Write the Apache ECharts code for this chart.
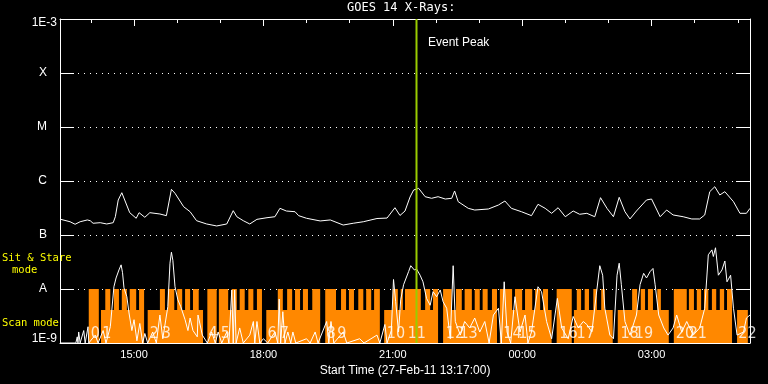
<!DOCTYPE html>
<html>
<head>
<meta charset="utf-8">
<script src="https://cdn.jsdelivr.net/npm/echarts@6/dist/echarts.min.js"></script>
<style>html,body{margin:0;padding:0;background:#000;}#c{width:768px;height:384px;}</style>
</head>
<body>
<div id="c"></div>
<script>
// ---- time axis: minutes after the start time 13:17 (27-Feb-11) ----
const startClock = 13 * 60 + 17;
const spanMinutes = 960;
const hourTicks = [43, 103, 163, 223, 283, 343, 403, 463, 523, 583, 643, 703, 763, 823, 883, 943];
const labelTicks = [103, 283, 463, 643, 823];
const yTickLabels = { '-3': '1E-3', '-4': 'X', '-5': 'M', '-6': 'C', '-7': 'B', '-8': 'A', '-9': '1E-9' };

// ---- GOES 14 long-channel flux (W/m^2) ----
const fluxTime = [1,14,21,28,38,42,46,56,65,74,77,81,86,90,97,106,110,118,125,139,148,155,160,172,181,190,204,218,232,241,246,255,264,274,288,299,306,315,327,332,343,362,376,394,408,422,441,455,466,473,480,487,492,499,508,517,526,536,545,549,554,568,577,596,610,619,628,642,656,665,675,684,693,703,714,723,733,744,752,761,770,778,786,793,802,816,823,835,844,853,867,879,890,897,904,911,918,925,937,946,955,960];
const fluxValue = [1.95e-7,1.76e-7,1.58e-7,1.76e-7,1.90e-7,1.84e-7,1.65e-7,1.69e-7,1.60e-7,1.69e-7,2.18e-7,4.45e-7,6.07e-7,4.45e-7,2.59e-7,2.04e-7,2.59e-7,2.13e-7,2.59e-7,2.45e-7,2.28e-7,7.02e-7,5.92e-7,3.34e-7,2.70e-7,1.84e-7,1.60e-7,1.47e-7,1.60e-7,2.82e-7,2.18e-7,1.84e-7,1.60e-7,1.95e-7,2.09e-7,2.18e-7,3.12e-7,2.78e-7,2.70e-7,2.28e-7,2.04e-7,1.82e-7,1.90e-7,1.53e-7,1.65e-7,1.76e-7,2.02e-7,2.06e-7,3.20e-7,2.30e-7,2.78e-7,5.05e-7,6.81e-7,7.32e-7,5.12e-7,4.78e-7,5.12e-7,4.64e-7,4.78e-7,6.53e-7,4.14e-7,3.12e-7,2.90e-7,3.03e-7,3.59e-7,4.26e-7,3.12e-7,2.70e-7,2.28e-7,3.70e-7,3.12e-7,2.52e-7,3.20e-7,2.18e-7,2.78e-7,2.42e-7,2.52e-7,2.18e-7,4.91e-7,3.12e-7,2.18e-7,4.99e-7,2.70e-7,1.98e-7,2.78e-7,4.45e-7,4.64e-7,2.18e-7,2.90e-7,2.35e-7,2.18e-7,1.98e-7,1.98e-7,2.35e-7,6.34e-7,7.84e-7,5.51e-7,6.34e-7,4.14e-7,2.52e-7,2.52e-7,3.12e-7];

// ---- lower (spiky) trace ----
const ctsTime = [0,22,24,25,26,28,33,35,39,40,49,53,60,64,70,72,75,78,82,85,87,89,93,96,100,103,107,111,115,118,122,129,134,139,143,150,153,155,157,160,164,168,174,178,181,185,191,192,198,205,211,216,220,225,232,235,239,241,243,245,250,255,264,269,271,274,278,283,289,299,303,305,307,310,313,317,321,324,328,343,348,355,359,371,374,377,381,394,399,417,423,441,445,452,455,461,464,467,471,474,478,485,488,493,496,501,505,510,515,519,524,529,533,538,543,547,550,557,563,570,577,584,591,597,603,610,614,618,622,627,633,640,647,651,656,665,670,677,684,692,698,707,714,721,728,733,740,746,751,755,758,765,770,775,778,781,786,793,802,807,812,816,821,825,828,833,840,846,853,858,865,872,881,890,897,902,907,909,912,916,921,925,928,933,937,942,951,955,960];
const ctsValue = [1.0e-9,1.0e-9,1.3e-9,1.0e-9,1.6e-9,1.0e-9,1.7e-9,1.0e-9,2.0e-9,1.0e-9,1.4e-9,1.0e-9,1.7e-9,1.0e-9,2.0e-9,2.0e-9,1.1e-8,1.6e-8,2.25e-8,2.8e-8,2.0e-8,1.05e-8,7.2e-9,3.6e-9,1.7e-9,2.7e-9,1.1e-9,2.3e-9,1.0e-9,1.5e-9,1.0e-9,1.6e-9,1.0e-9,3.3e-9,1.2e-9,4.7e-9,3.0e-8,4.8e-8,3.4e-8,1.1e-8,6.3e-9,4.7e-9,2.7e-9,1.7e-9,2.9e-9,1.7e-9,1.3e-9,3.3e-9,1.4e-9,1.0e-9,1.6e-9,1.0e-9,1.6e-9,1.0e-9,1.6e-9,1.0e-9,9.6e-9,1.0e-9,9.6e-9,1.0e-9,1.9e-9,1.0e-9,1.4e-9,2.5e-9,1.0e-9,2.5e-9,1.0e-9,1.2e-9,1.0e-9,1.6e-9,1.0e-9,6.5e-9,1.0e-9,3.8e-9,1.0e-9,1.6e-9,1.0e-9,1.6e-9,1.0e-9,1.2e-9,1.0e-9,1.6e-9,1.0e-9,2.5e-9,1.0e-9,2.5e-9,1.0e-9,1.6e-9,1.0e-9,1.2e-9,1.0e-9,1.4e-9,1.0e-9,2.2e-9,1.0e-9,1.7e-9,1.5e-8,5.8e-9,1.6e-9,6.3e-9,1.2e-8,2.1e-8,2.7e-8,2.25e-8,2.35e-8,1.8e-8,1.36e-8,6.7e-9,5.0e-9,8.9e-9,7.2e-9,9.6e-9,5.8e-9,4.4e-9,1.2e-9,2.7e-8,2.5e-9,1.4e-9,2.5e-9,1.9e-9,2.9e-9,1.6e-9,2.5e-9,1.0e-9,3.3e-9,4.4e-9,1.0e-9,1.36e-8,1.6e-9,1.0e-9,7.2e-9,1.6e-9,3.3e-9,1.0e-9,1.6e-9,1.1e-8,8.9e-9,2.5e-9,1.2e-9,6.7e-9,1.9e-9,1.2e-9,3.1e-9,1.9e-9,2.5e-9,2.2e-9,1.6e-9,7.7e-9,2.7e-8,1.8e-8,4.4e-9,1.4e-9,1.2e-9,1.8e-8,3.0e-8,1.2e-8,2.5e-9,1.4e-9,3.3e-9,1.2e-8,1.95e-8,1.6e-8,2.1e-8,2.4e-8,1.2e-8,3.3e-9,1.9e-9,1.4e-9,1.9e-9,3.3e-9,1.6e-9,2.5e-9,1.4e-9,1.9e-9,4.4e-9,4.3e-8,5.3e-8,4.0e-8,5.8e-8,1.8e-8,2.25e-8,3.3e-8,1.36e-8,1.8e-8,4.4e-9,1.4e-9,1.6e-9,2.9e-9,3.3e-9];

// ---- observing mode (orange): full = Sit & Stare level, half = Scan level, none ----
const FULL = 1e-8, HALF = 4.1e-9, NONE = 1e-9;
const modeTime = [0,40,54,57,63,70,75,82,86,93,97,106,110,117,122,139,146,150,159,163,170,174,181,185,193,199,205,218,221,234,239,246,250,257,262,269,274,281,287,303,310,316,323,327,334,338,345,351,362,369,384,391,398,402,409,415,422,426,433,437,445,451,463,470,474,477,480,502,508,515,519,526,533,545,551,559,563,573,577,584,588,595,601,608,612,629,633,643,647,657,661,668,672,679,684,691,712,715,719,725,730,736,742,747,753,758,769,776,796,803,808,814,818,825,831,836,847,854,872,875,882,886,892,896,902,907,913,918,924,928,935,942,957,960];
const modeLevel = [NONE,FULL,NONE,HALF,FULL,HALF,FULL,HALF,FULL,HALF,FULL,HALF,FULL,NONE,HALF,FULL,HALF,FULL,HALF,FULL,HALF,FULL,HALF,FULL,HALF,NONE,FULL,NONE,FULL,HALF,FULL,HALF,FULL,HALF,FULL,HALF,FULL,NONE,HALF,FULL,HALF,FULL,HALF,FULL,HALF,FULL,HALF,FULL,NONE,FULL,HALF,FULL,HALF,FULL,HALF,FULL,HALF,FULL,HALF,FULL,NONE,HALF,FULL,HALF,FULL,HALF,FULL,HALF,FULL,HALF,FULL,NONE,FULL,HALF,FULL,HALF,FULL,HALF,FULL,HALF,FULL,HALF,FULL,NONE,FULL,HALF,FULL,HALF,FULL,HALF,FULL,HALF,FULL,HALF,NONE,FULL,NONE,HALF,FULL,HALF,FULL,HALF,FULL,HALF,FULL,HALF,NONE,HALF,FULL,HALF,FULL,HALF,FULL,HALF,FULL,HALF,NONE,FULL,HALF,FULL,HALF,FULL,HALF,FULL,HALF,FULL,HALF,FULL,HALF,FULL,NONE,HALF,NONE,NONE];

// ---- observation numbers ----
const obsTime = [42,58,124,141,206,223,288,305,370,385,454,483,536,555,616,637,694,718,779,799,856,874,943];
const obsLabel = ['0','1','2','3','4','5','6','7','8','9','10','11','12','13','14','15','16','17','18','19','20','21','22'];

const eventPeak = 496;

const zip = (a, b) => a.map((t, i) => [t, b[i]]);
const fmtClock = v => {
  const c = ((startClock + Math.round(v)) % 1440 + 1440) % 1440;
  return String(Math.floor(c / 60)).padStart(2, '0') + ':' + String(c % 60).padStart(2, '0');
};

const chart = echarts.init(document.getElementById('c'), null, { renderer: 'canvas', width: 768, height: 384 });
const W = '#ffffff';
const xBase = { type: 'value', min: 0, max: spanMinutes, splitLine: { show: false } };
const yBase = { type: 'log', logBase: 10, min: 1e-9, max: 1e-3, splitNumber: 6 };

chart.setOption({
  backgroundColor: '#000000',
  animation: false,
  title: {
    text: 'GOES 14 X-Rays:', left: 347, top: 2, padding: 0,
    textStyle: { color: W, fontSize: 12, fontWeight: 'normal', fontFamily: 'DejaVu Sans Mono' }
  },
  grid: { left: 60, right: 18, top: 19, bottom: 41 },
  xAxis: [
    Object.assign({}, xBase, {
      position: 'bottom',
      axisLine: { show: true, onZero: false, lineStyle: { color: W, width: 1 } },
      axisTick: { show: false },
      axisLabel: { customValues: labelTicks, formatter: fmtClock, color: W, fontSize: 11, fontFamily: 'Liberation Sans', margin: 6 },
      name: 'Start Time (27-Feb-11 13:17:00)', nameLocation: 'middle', nameGap: 20,
      nameTextStyle: { color: W, fontSize: 12, fontFamily: 'Liberation Sans' }
    }),
    Object.assign({}, xBase, {
      position: 'top',
      axisLine: { show: true, onZero: false, lineStyle: { color: W, width: 1 } },
      axisTick: { show: true, inside: true, length: 4, customValues: hourTicks, lineStyle: { color: W } },
      axisLabel: { show: false }
    }),
    Object.assign({}, xBase, {
      position: 'top',
      axisLine: { show: false },
      axisTick: { show: true, inside: true, length: 7, customValues: labelTicks, lineStyle: { color: W } },
      axisLabel: { show: false }
    })
  ],
  yAxis: [
    Object.assign({}, yBase, {
      position: 'left',
      axisLine: { show: true, onZero: false, lineStyle: { color: W, width: 1 } },
      axisTick: { show: true, inside: true, length: 14, lineStyle: { color: W } },
      splitLine: { show: true, lineStyle: { color: W, width: 1, type: [1, 5] } },
      axisLabel: {
        color: W, fontSize: 12, fontFamily: 'Liberation Sans', margin: 3,
        formatter: v => {
          const e = Math.round(Math.log10(v));
          const t = yTickLabels[e] || '';
          if (e === -3) return '{top|' + t + '}';
          if (e === -9) return '{bot|' + t + '}';
          return '{cls|' + t + '}';
        },
        rich: {
          top: { color: W, fontSize: 12, fontFamily: 'Liberation Sans', padding: [8, 0, 0, 0] },
          bot: { color: W, fontSize: 12, fontFamily: 'Liberation Sans', padding: [0, 0, 8, 0] },
          cls: { color: W, fontSize: 12, fontFamily: 'Liberation Sans', padding: [0, 10, 0, 0] }
        }
      }
    }),
    Object.assign({}, yBase, {
      position: 'right',
      axisLine: { show: true, onZero: false, lineStyle: { color: W, width: 1 } },
      axisTick: { show: true, inside: true, length: 14, lineStyle: { color: W } },
      axisLabel: { show: false },
      splitLine: { show: false }
    })
  ],
  graphic: [
    { type: 'text', left: 428, top: 37, z: 10, style: { text: 'Event Peak', fill: W, font: '12px "Liberation Sans"' } },
    { type: 'text', left: 2, top: 253, z: 10, style: { text: 'Sit & Stare', fill: '#ffff00', font: '10.5px "DejaVu Sans Mono"' } },
    { type: 'text', left: 12, top: 265, z: 10, style: { text: 'mode', fill: '#ffff00', font: '10.5px "DejaVu Sans Mono"' } },
    { type: 'text', left: 2, top: 318, z: 10, style: { text: 'Scan mode', fill: '#ffff00', font: '10.5px "DejaVu Sans Mono"' } }
  ],
  series: [
    {
      name: 'mode', type: 'line', step: 'end', data: zip(modeTime, modeLevel),
      symbol: 'none', silent: true, z: 1,
      lineStyle: { width: 0 },
      areaStyle: { color: '#ff8800', opacity: 1, origin: 'start' }
    },
    {
      name: 'obs', type: 'scatter', z: 2, silent: true,
      data: obsTime.map((t, i) => [t, 1.45e-9, obsLabel[i]]),
      symbolSize: 1, itemStyle: { color: 'rgba(0,0,0,0)' },
      label: {
        show: true, position: 'right', distance: 0, formatter: p => p.value[2],
        color: W, fontSize: 16, fontFamily: '"Liberation Sans Narrow", "DejaVu Sans Condensed", sans-serif'
      }
    },
    {
      name: 'lower', type: 'line', data: zip(ctsTime, ctsValue), symbol: 'none', silent: true, z: 3,
      lineStyle: { color: W, width: 1 }
    },
    {
      name: 'flux', type: 'line', data: zip(fluxTime, fluxValue), symbol: 'none', silent: true, z: 3,
      lineStyle: { color: W, width: 1 }
    },
    {
      name: 'peak', type: 'line', data: [[eventPeak, 1e-9], [eventPeak, 1e-3]], symbol: 'none', silent: true, z: 4,
      lineStyle: { color: '#99cc00', width: 2 }
    }
  ]
});
</script>
</body>
</html>
